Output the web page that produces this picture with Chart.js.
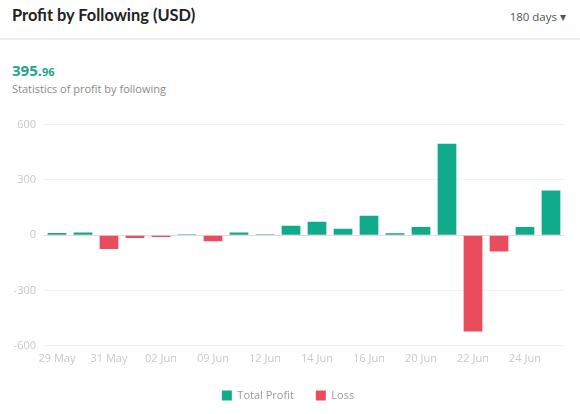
<!DOCTYPE html>
<html>
<head>
<meta charset="utf-8">
<script src="https://cdn.jsdelivr.net/npm/chart.js@4.4.1/dist/chart.umd.min.js"></script>
<style>
  html, body { margin:0; padding:0; background:#fff; width:580px; height:414px; overflow:hidden; font-family:"Open Sans", sans-serif; }
  #title { position:absolute; left:12px; top:5px; font-family:Lato, sans-serif; font-size:16.4px; font-weight:700; color:#222; }
  #range { position:absolute; right:14px; top:9px; font-size:11.5px; color:#555; }
  #divider { position:absolute; left:0; top:38px; width:580px; height:2px; background:#eeeeee; }
  #amount { position:absolute; left:12px; top:60px; color:#1aa88a; font-weight:700; font-size:15px; }
  #amount small { font-size:11px; }
  #sub { position:absolute; left:12px; top:81px; color:#8a8a8a; font-size:11px; }
  #wrap { position:absolute; left:0; top:110px; width:580px; height:304px; }
</style>
</head>
<body>
<div id="title">Profit by Following (USD)</div>
<div id="range">180 days &#9662;</div>
<div id="divider"></div>
<div id="amount">395.<small>96</small></div>
<div id="sub">Statistics of profit by following</div>
<div id="wrap"><canvas id="c"></canvas></div>
<script>
const categories = ['29 May','30 May','31 May','01 Jun','02 Jun','05 Jun','09 Jun','10 Jun','12 Jun','13 Jun','14 Jun','15 Jun','16 Jun','18 Jun','20 Jun','21 Jun','22 Jun','23 Jun','24 Jun','25 Jun'];
const profitValues = [12, 15, null, null, null, 5, null, 15, 5, 51, 73, 35, 105, 11, 44, 496, null, null, 45, 243];
const lossValues   = [null, null, -75, -15, -10, null, -33, null, null, null, null, null, null, null, null, null, -522, -89, null, null];
const yTicks = [-600, -300, 0, 300, 600];

new Chart(document.getElementById('c'), {
  type: 'bar',
  data: {
    labels: categories,
    datasets: [
      { label: 'Total Profit', data: profitValues, backgroundColor: '#0fab8b', borderWidth: 0 },
      { label: 'Loss', data: lossValues, backgroundColor: '#e84c5d', borderWidth: 0 }
    ]
  },
  options: {
    responsive: true,
    maintainAspectRatio: false,
    animation: false,
    layout: { padding: { left: 12, right: 16, top: 11, bottom: 3 } },
    datasets: { bar: { categoryPercentage: 0.72, barPercentage: 1 } },
    scales: {
      x: {
        stacked: true,
        grid: { display: false },
        border: { display: false },
        afterFit: function(s) { s.height = s.height + 5; },
        ticks: {
          autoSkip: false, maxRotation: 0, color: '#c8c8c8', font: { size: 11, family: 'Open Sans' }, padding: -2,
          callback: function(v, i) { return i % 2 === 0 ? categories[i] : ''; }
        }
      },
      y: {
        stacked: true,
        min: yTicks[0], max: yTicks[yTicks.length - 1],
        afterBuildTicks: function(s) { s.ticks = yTicks.map(v => ({ value: v })); },
        afterFit: function(s) { s.width = 32; },
        border: { display: false },
        grid: {
          color: function(ctx) { return ctx.tick && ctx.tick.value === 0 ? '#f6d3d7' : '#f2f2f2'; },
          drawTicks: false
        },
        ticks: { color: '#c8c8c8', font: { size: 11, family: 'Open Sans' }, padding: 8 }
      }
    },
    plugins: {
      tooltip: { enabled: false },
      legend: {
        position: 'bottom',
        labels: { boxWidth: 10, boxHeight: 10, padding: 22, color: '#999', font: { size: 11, family: 'Open Sans' } }
      }
    }
  }
});
</script>
</body>
</html>
